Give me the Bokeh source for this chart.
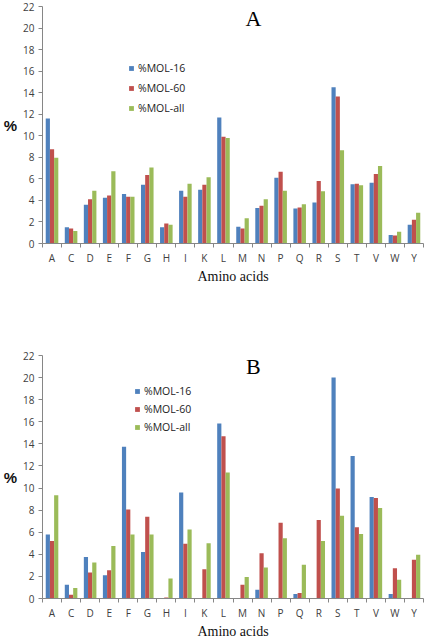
from bokeh.plotting import figure
from bokeh.models import (FactorRange, Range1d, LinearAxis, FixedTicker,
                          CustomJSTickFormatter, Legend, LegendItem, Label, ColumnDataSource)
from bokeh.transform import dodge
from bokeh.layouts import column
from bokeh.embed import file_html
from bokeh.resources import INLINE

amino_acids = ["A", "C", "D", "E", "F", "G", "H", "I", "K", "L",
               "M", "N", "P", "Q", "R", "S", "T", "V", "W", "Y"]
series_names = ["%MOL-16", "%MOL-60", "%MOL-all"]
y_ticks = [0, 2, 4, 6, 8, 10, 12, 14, 16, 18, 20, 22]

# Panel A
mol16_A = [11.6, 1.5, 3.6, 4.25, 4.6, 5.45, 1.5, 4.9, 5.0, 11.7,
           1.55, 3.3, 6.1, 3.25, 3.8, 14.5, 5.5, 5.65, 0.8, 1.75]
mol60_A = [8.75, 1.4, 4.1, 4.45, 4.35, 6.35, 1.85, 4.35, 5.45, 9.9,
           1.4, 3.5, 6.65, 3.35, 5.8, 13.65, 5.55, 6.45, 0.75, 2.2]
molall_A = [7.95, 1.15, 4.9, 6.7, 4.35, 7.05, 1.75, 5.55, 6.15, 9.8,
            2.35, 4.1, 4.9, 3.65, 4.85, 8.65, 5.4, 7.2, 1.1, 2.85]

# Panel B
mol16_B = [5.8, 1.25, 3.75, 2.1, 13.75, 4.2, 0.0, 9.6, 0.0, 15.85,
           0.0, 0.8, 0.0, 0.4, 0.0, 20.0, 12.9, 9.2, 0.4, 0.0]
mol60_B = [5.2, 0.35, 2.35, 2.55, 8.05, 7.4, 0.1, 4.95, 2.65, 14.7,
           1.25, 4.1, 6.85, 0.5, 7.1, 9.95, 6.45, 9.1, 2.75, 3.5]
molall_B = [9.35, 0.95, 3.25, 4.75, 5.8, 5.8, 1.8, 6.25, 5.0, 11.4,
            1.95, 2.8, 5.45, 3.05, 5.2, 7.5, 5.85, 8.2, 1.7, 3.95]

COLORS = ["#4F81BD", "#C0504D", "#9BBB59"]
TICK_FONT = "Open Sans"
AXIS_GRAY = "#868686"
TEXT_GRAY = "#404040"


def make_chart(letter, s16, s60, sall, height, top, bottom, legend_loc, legend_spacing, title_y):
    src = ColumnDataSource(dict(aa=amino_acids, s16=s16, s60=s60, sall=sall))
    p = figure(x_range=FactorRange(*amino_acids, range_padding=0, factor_padding=0),
               y_range=Range1d(0, 22), width=425, height=height,
               output_backend="svg", toolbar_location=None,
               x_axis_location=None, y_axis_location="left",
               min_border_left=41, min_border_right=2,
               min_border_top=top, min_border_bottom=bottom)
    p.outline_line_color = None
    p.xgrid.visible = False
    p.ygrid.visible = False

    bw = 0.22
    renderers = []
    for col, off, c in zip(["s16", "s60", "sall"], [-bw, 0.0, bw], COLORS):
        r = p.vbar(x=dodge("aa", off, range=p.x_range), top=col, width=bw,
                   source=src, fill_color=c, line_color=None)
        renderers.append(r)

    # y axis
    ya = p.yaxis[0]
    ya.ticker = FixedTicker(ticks=y_ticks)
    ya.axis_line_color = AXIS_GRAY
    ya.major_tick_line_color = AXIS_GRAY
    ya.major_tick_out = 4
    ya.major_tick_in = 0
    ya.minor_tick_line_color = None
    ya.major_label_text_font = TICK_FONT
    ya.major_label_text_font_size = "10px"
    ya.major_label_text_color = TEXT_GRAY
    ya.major_label_standoff = 4
    ya.axis_label = "%"
    ya.axis_label_orientation = "horizontal"
    ya.axis_label_text_font = "Liberation Sans"
    ya.axis_label_text_font_style = "bold"
    ya.axis_label_text_font_size = "15px"
    ya.axis_label_text_color = "#111111"
    ya.axis_label_standoff = 3

    # x axis: letters at category centres, tick marks at category boundaries
    n = len(amino_acids)
    xa = LinearAxis(ticker=FixedTicker(ticks=[i + 0.5 for i in range(n)],
                                       minor_ticks=list(range(n + 1))),
                    formatter=CustomJSTickFormatter(args=dict(cats=amino_acids),
                                                    code="return cats[Math.round(tick - 0.5)]"))
    xa.axis_line_color = AXIS_GRAY
    xa.major_tick_line_color = None
    xa.major_tick_out = 4
    xa.major_tick_in = 0
    xa.minor_tick_line_color = AXIS_GRAY
    xa.minor_tick_out = 4
    xa.minor_tick_in = 0
    xa.major_label_text_font = TICK_FONT
    xa.major_label_text_font_size = "10px"
    xa.major_label_text_color = TEXT_GRAY
    xa.major_label_standoff = 3
    xa.axis_label = "Amino acids"
    xa.axis_label_text_font = "Liberation Serif"
    xa.axis_label_text_font_style = "normal"
    xa.axis_label_text_font_size = "14px"
    xa.axis_label_text_color = "#111111"
    xa.axis_label_standoff = 1
    p.add_layout(xa, "below")

    legend = Legend(items=[LegendItem(label=nm, renderers=[r])
                           for nm, r in zip(series_names, renderers)],
                    location=legend_loc)
    legend.label_text_font = TICK_FONT
    legend.label_text_font_size = "10.5px"
    legend.label_text_color = "#222222"
    legend.label_height = 12
    legend.glyph_width = 6
    legend.glyph_height = 6
    legend.label_standoff = 4
    legend.spacing = legend_spacing
    legend.padding = 0
    legend.margin = 0
    legend.border_line_color = None
    legend.background_fill_alpha = 0
    p.add_layout(legend)

    p.add_layout(Label(x=11.07, y=title_y, text=letter, text_font="Liberation Serif",
                       text_font_size="22px", text_align="center",
                       text_baseline="middle", text_color="#000000"))
    return p


pA = make_chart("A", mol16_A, mol60_A, molall_A, height=298, top=6, bottom=55,
                legend_loc=(86, 128), legend_spacing=6, title_y=20.89)
pB = make_chart("B", mol16_B, mol60_B, molall_B, height=343, top=57, bottom=39,
                legend_loc=(92, 164), legend_spacing=4, title_y=21.02)

layout = column(pA, pB, spacing=0)
open("out.html", "w").write(file_html(layout, INLINE))
